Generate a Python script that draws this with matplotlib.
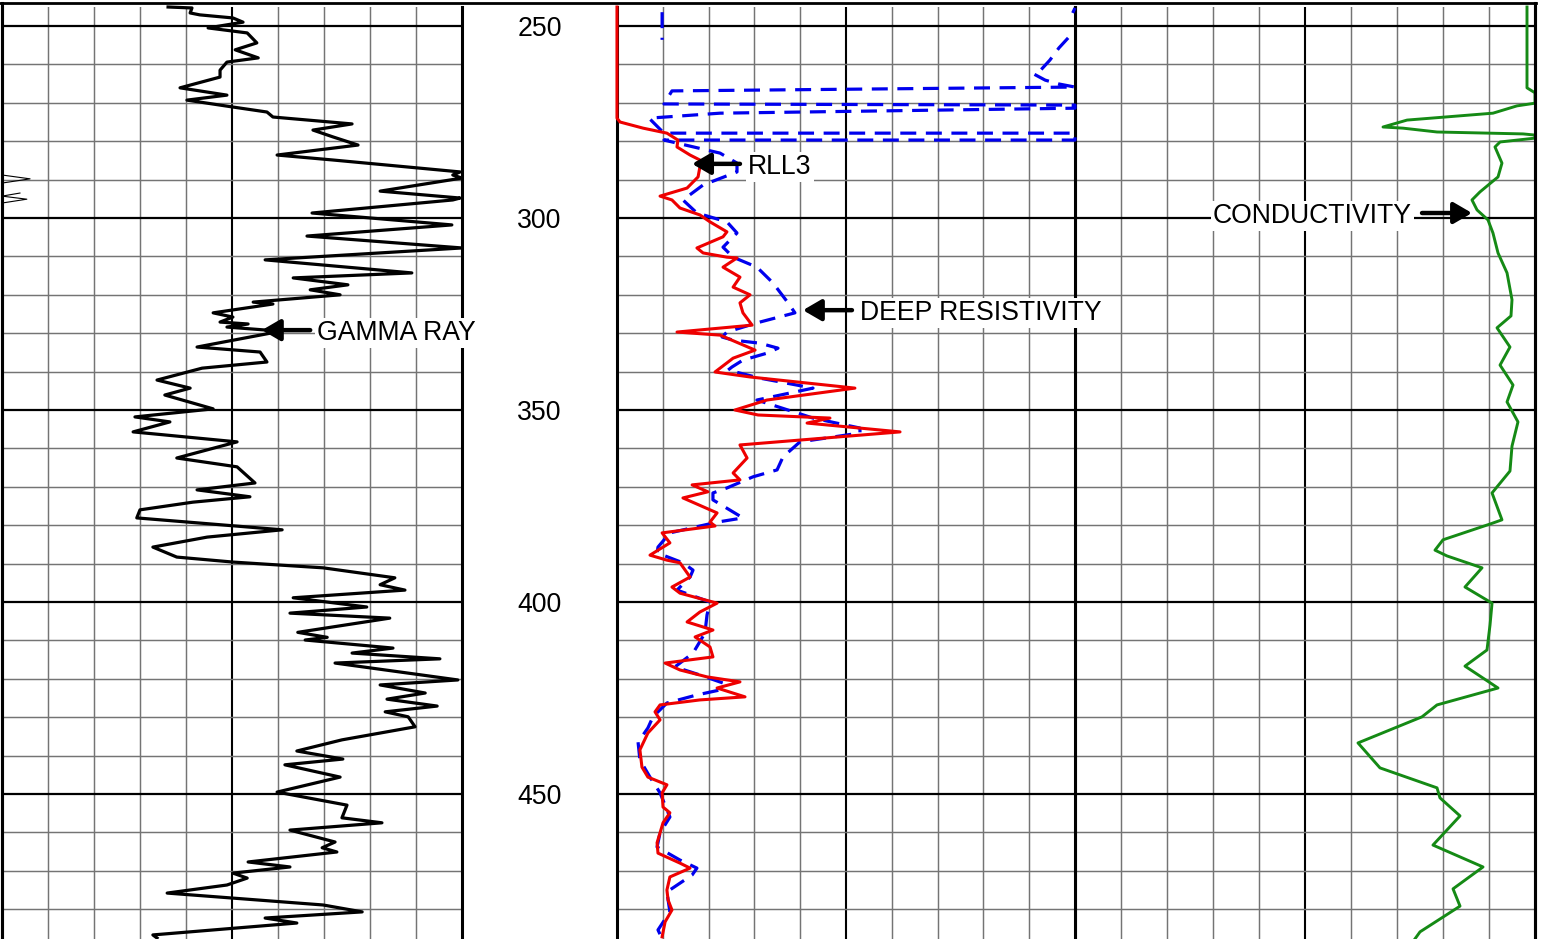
import numpy as np
import matplotlib.pyplot as plt
from matplotlib.lines import Line2D

plt.rcParams['font.family'] = ['Liberation Sans', 'DejaVu Sans']

nan = np.nan

# depth window shown (ft)
top_depth, bottom_depth = 245.05, 487.76
depth_labels = [250, 300, 350, 400, 450]

# gamma ray, API (track scale 0-100)
gr_depth = [245.05, 245.3, 246.6, 247.1, 247.9, 249.0, 250.5, 251.8, 254.4, 256.2,
            258.3, 259.4, 261.5, 263.3, 266.1, 268.0, 269.3, 271.1, 272.4, 273.7,
            275.5, 277.1, 278.9, 281.0, 283.6, 284.9, 288.0, 288.8, 289.6, 293.0,
            294.8, 295.3, 298.7, 301.8, 304.7, 307.8, 310.9, 314.3, 315.6, 317.4,
            318.7, 320.0, 321.9, 322.4, 324.7, 325.8, 327.1, 327.6, 328.4, 329.2,
            330.0, 333.6, 334.9, 337.5, 339.1, 342.2, 344.3, 346.1, 349.7, 351.8,
            353.1, 355.7, 358.3, 362.5, 364.8, 369.0, 370.8, 372.6, 374.0, 376.0,
            378.1, 381.2, 383.1, 385.7, 388.3, 389.6, 391.1, 393.7, 395.5, 396.9,
            398.9, 401.3, 402.9, 404.2, 407.9, 409.2, 409.9, 412.0, 413.3, 414.8,
            415.9, 420.3, 421.6, 423.7, 425.3, 427.1, 428.6, 429.9, 432.5, 435.9,
            438.8, 440.9, 442.4, 445.6, 449.5, 452.9, 456.2, 457.5, 459.4, 462.5,
            464.0, 465.1, 467.7, 469.0, 470.6, 471.9, 473.7, 475.8, 478.9, 480.7,
            482.3, 483.6, 486.7, 487.5]
gr_api = [36.1, 41.3, 40.9, 43.0, 50.2, 52.4, 44.8, 53.3, 55.4, 50.7,
          55.7, 48.9, 47.4, 47.4, 38.7, 48.9, 40.2, 50.2, 57.6, 58.9,
          76.1, 67.6, 72.0, 77.4, 59.8, 72.0, 99.6, 98.0, 100.0, 82.2,
          99.6, 98.0, 67.4, 97.8, 66.3, 100.0, 57.2, 89.1, 63.3, 75.2,
          67.0, 73.5, 54.6, 58.9, 45.9, 50.2, 47.4, 53.5, 48.9, 57.6,
          58.3, 42.4, 56.1, 57.6, 43.5, 33.7, 40.9, 35.4, 45.9, 28.9,
          36.5, 28.5, 51.1, 38.0, 51.1, 55.0, 42.4, 53.9, 41.5, 30.0,
          29.3, 60.9, 44.6, 32.8, 38.0, 50.2, 69.8, 85.4, 82.2, 87.6,
          63.3, 79.3, 62.6, 84.3, 64.3, 70.7, 65.9, 85.0, 76.1, 95.2,
          72.4, 99.1, 82.2, 92.0, 83.7, 94.6, 83.3, 88.3, 89.8, 73.9,
          64.1, 74.1, 61.5, 73.5, 59.8, 75.0, 73.9, 82.6, 62.6, 72.4,
          69.6, 72.8, 53.5, 62.6, 50.2, 53.3, 48.9, 35.9, 69.8, 78.3,
          57.2, 64.1, 32.8, 33.7]

# gamma ray wrapped onto the backup scale where it runs off the track
gr_wrap_depth = [288.8, 289.8, 290.9, nan, 293.5, 294.3, 295.1, 296.1]
gr_wrap_api = [0.0, 6.1, 0.0, nan, 3.9, 0.0, 5.4, 0.0]

# shallow laterolog RLL3, ohm-m (track scale 0-20)
rll3_depth = [245.05, 274.0, 275.0, 276.6, 277.9, 279.7, 281.5, 283.6, 284.9, 286.7,
              289.3, 292.2, 294.3, 295.3, 297.4, 299.2, 301.0, 303.6, 304.9, 307.8,
              309.1, 310.2, 310.4, 312.8, 315.4, 318.0, 320.0, 322.1, 324.7, 327.9,
              329.7, 330.5, 334.4, 336.5, 340.1, 341.4, 344.3, 347.4, 350.0, 351.3,
              352.1, 353.4, 355.7, 359.1, 362.5, 366.4, 368.2, 369.5, 371.3, 372.9,
              376.8, 379.2, 380.2, 382.0, 384.6, 387.8, 389.1, 389.8, 393.5, 396.1,
              397.7, 400.3, 402.6, 405.2, 407.3, 409.1, 411.7, 414.3, 415.9, 417.7,
              419.5, 420.8, 422.4, 424.7, 425.5, 426.8, 428.6, 430.7, 434.1, 438.5,
              443.0, 445.6, 447.6, 449.7, 453.4, 454.9, 457.5, 462.7, 465.4, 468.0,
              469.3, 471.6, 475.0, 477.6, 480.2, 483.3, 487.2]
rll3_ohmm = [0.0, 0.0, 0.13, 1.14, 2.18, 2.66, 2.62, 3.19, 3.62, 3.62,
             3.54, 3.06, 1.88, 2.40, 2.75, 3.62, 4.06, 4.80, 4.63, 3.49,
             3.76, 4.80, 5.24, 4.63, 5.37, 5.07, 5.81, 5.37, 5.50, 5.90,
             2.62, 4.50, 6.03, 5.07, 4.28, 5.81, 10.39, 6.55, 5.15, 6.16,
             9.30, 8.30, 12.36, 5.37, 5.68, 5.07, 5.37, 3.28, 3.97, 2.88,
             4.37, 4.06, 4.28, 1.97, 2.31, 1.44, 2.18, 2.75, 3.19, 2.40,
             2.75, 4.37, 3.62, 3.06, 4.19, 3.41, 4.06, 4.19, 2.10, 2.75,
             3.93, 5.37, 4.37, 5.59, 3.62, 1.88, 1.66, 1.88, 1.35, 1.00,
             1.09, 1.35, 2.18, 1.97, 2.01, 2.31, 2.01, 1.75, 1.79, 2.75,
             3.19, 2.31, 2.18, 2.23, 2.40, 2.10, 1.97]

# deep resistivity, ohm-m (wraps across the track near the top)
deep_depth = [246.4, 253.6, nan, 245.3, 246.6, nan, 253.1, 255.7, 258.9, 261.5,
              262.5, 264.1, 265.1, 265.9, 266.9, 270.3, 270.6, 271.4, 272.7, 274.0,
              277.9, 277.9, 279.7, 279.7, 283.1, 285.7, 288.0, 291.4, 295.3, 298.7,
              301.0, 303.9, 307.6, 310.2, 312.8, 316.9, 322.1, 324.7, 327.3, 329.7,
              331.0, 331.8, 332.6, 333.9, 335.2, 337.0, 338.8, 339.6, 341.7, 344.3,
              347.4, 352.1, 354.7, 356.0, 358.3, 362.2, 365.6, 367.4, 370.3, 371.6,
              373.4, 378.1, 379.2, 382.0, 385.7, 387.2, 389.8, 391.7, 393.5, 396.9,
              400.0, 403.4, 408.1, 413.3, 416.9, 419.0, 421.1, 422.9, 424.2, 426.3,
              429.9, 432.8, 436.5, 441.1, 445.6, 449.7, 456.0, 460.1, 463.8, 467.2,
              469.3, 471.1, 475.5, 480.7, 485.4, 487.7]
deep_ohmm = [1.97, 1.97, nan, 20.0, 19.9, nan, 19.7, 19.3, 18.9, 18.5,
             18.2, 18.7, 19.3, 20.0, 2.40, 2.05, 20.0, 20.0, 4.50, 1.40,
             2.05, 20.0, 20.0, 2.05, 4.50, 5.24, 5.24, 3.76, 2.88, 3.49,
             4.80, 5.24, 4.63, 5.07, 6.11, 6.81, 7.47, 7.77, 6.11, 4.80,
             4.59, 5.07, 6.24, 7.03, 6.55, 5.50, 5.02, 4.85, 6.24, 8.56,
             6.11, 8.56, 10.61, 10.61, 7.99, 7.25, 6.99, 5.94, 4.80, 4.19,
             4.19, 5.50, 4.37, 2.31, 1.79, 1.75, 2.88, 3.32, 3.19, 2.62,
             4.06, 3.93, 3.84, 3.32, 2.53, 3.62, 4.63, 4.50, 3.49, 2.18,
             1.57, 1.35, 0.92, 1.00, 1.44, 1.88, 2.31, 1.88, 1.75, 2.75,
             3.49, 3.28, 2.18, 2.31, 1.79, 1.97]

# conductivity, mmho/m (track scale 500-0, increasing to the left)
cond_depth = [245.05, 266.1, 267.4, 270.1, 270.8, 272.7, 274.5, 276.3, 276.6, 277.6,
              278.1, 278.4, 279.2, 280.2, 281.5, 285.7, 289.3, 293.2, 295.3, 297.9,
              300.5, 303.9, 309.1, 314.3, 321.3, 325.5, 328.6, 333.6, 338.3, 343.5,
              347.9, 353.1, 359.4, 365.9, 371.6, 378.6, 379.7, 383.8, 386.5, 388.0,
              391.1, 396.1, 400.3, 406.0, 412.5, 416.7, 422.4, 426.8, 429.9, 436.7,
              443.2, 448.4, 451.0, 455.7, 463.3, 469.0, 474.7, 479.2, 485.9, 487.7]
cond_mmho = [8.7, 8.7, 0.0, 0.0, 19.6, 45.7, 139.1, 165.2, 143.5, 106.5,
             13.0, 0.0, 0.0, 38.0, 43.5, 35.9, 40.2, 59.8, 68.5, 63.0,
             51.1, 45.7, 40.2, 30.4, 25.0, 26.1, 41.3, 27.2, 38.0, 23.9,
             30.4, 18.5, 25.0, 27.2, 46.7, 35.9, 48.9, 100.0, 108.7, 95.7,
             57.6, 76.1, 46.7, 48.9, 52.2, 76.1, 40.2, 106.5, 122.8, 192.4,
             168.5, 106.5, 103.3, 81.5, 110.9, 56.5, 89.1, 81.5, 125.0, 130.4]

W, H = 1549, 939
fig = plt.figure(figsize=(W / 100, H / 100), dpi=100)
fig.patch.set_facecolor('white')

top = 1 - 7 / H
fs = 19.2


def track(x0, x1, lo, hi):
    ax = fig.add_axes([x0 / W, 0, (x1 - x0) / W, top])
    ax.set_xlim(lo, hi)
    ax.set_ylim(bottom_depth, top_depth)
    step = (hi - lo) / 10
    for i in range(1, 10):
        major = i == 5
        ax.axvline(lo + i * step, color='k' if major else '#747474',
                   lw=1.5 if major else 1.05, zorder=1)
    for d in range(250, 490, 10):
        major = d % 50 == 0
        ax.axhline(d, color='k' if major else '#747474',
                   lw=1.6 if major else 1.05, zorder=1)
    ax.set_xticks([])
    ax.set_yticks([])
    ax.spines['top'].set_visible(False)
    ax.spines['bottom'].set_visible(False)
    for s in ('left', 'right'):
        ax.spines[s].set_linewidth(2.2)
    return ax


ax_gr = track(2, 462, 0, 100)
ax_res = track(617, 1075, 0, 20)
ax_cond = track(1075, 1535, 500, 0)
# resistivity labels run over into the conductivity track
ax_res.set_zorder(2)

# depth column
ax_d = fig.add_axes([462 / W, 0, 155 / W, top])
ax_d.set_ylim(bottom_depth, top_depth)
ax_d.axis('off')
for d in depth_labels:
    ax_d.text(0.5, d, str(d), transform=ax_d.get_yaxis_transform(),
              ha='center', va='center_baseline', fontsize=fs)

# curves
ax_gr.plot(gr_api, gr_depth, color='k', lw=2.3, zorder=3, clip_on=False)
ax_gr.plot(gr_wrap_api, gr_wrap_depth, color='k', lw=0.8, zorder=3, clip_on=False)
ax_res.plot(deep_ohmm, deep_depth, color='#0000ee', lw=2.3, ls=(0, (5, 3)),
            zorder=3, clip_on=False)
ax_res.plot(rll3_ohmm, rll3_depth, color='#ee0000', lw=2.2, zorder=4, clip_on=False)
ax_cond.plot(cond_mmho, cond_depth, color='#158a15', lw=2.1, zorder=3, clip_on=False)

arrow = dict(arrowstyle='-|>,head_length=0.55,head_width=0.32', color='k',
             lw=3.2, mutation_scale=20, shrinkA=0, shrinkB=0)
box = dict(facecolor='white', edgecolor='none', pad=1.5)


def label(ax, text, depth, tip, tail, tx, ha='left'):
    ax.annotate('', xy=(tip, depth), xytext=(tail, depth),
                arrowprops=arrow, zorder=6, annotation_clip=False)
    ax.text(tx, depth, text, ha=ha, va='center_baseline', fontsize=fs,
            bbox=box, zorder=5, clip_on=False)


label(ax_gr, 'GAMMA RAY', 329.2, 56.5, 67.0, 68.5)
label(ax_res, 'RLL3', 285.9, 3.28, 5.37, 5.72)
label(ax_res, 'DEEP RESISTIVITY', 324.0, 8.12, 10.26, 10.61)
label(ax_cond, 'CONDUCTIVITY', 298.7, 68.5, 122.8, 133.7, ha='right')

# outer frame pieces above the tracks
fig.add_artist(Line2D([0, 1536 / W], [1 - 3 / H] * 2, color='k', lw=2.0,
                      transform=fig.transFigure))
fig.add_artist(Line2D([2 / W] * 2, [0, 1 - 3 / H], color='k', lw=2.2,
                      transform=fig.transFigure))
fig.add_artist(Line2D([1535 / W] * 2, [0, 1 - 3 / H], color='k', lw=2.2,
                      transform=fig.transFigure))

fig.savefig('out.png', dpi=100, facecolor='white')
